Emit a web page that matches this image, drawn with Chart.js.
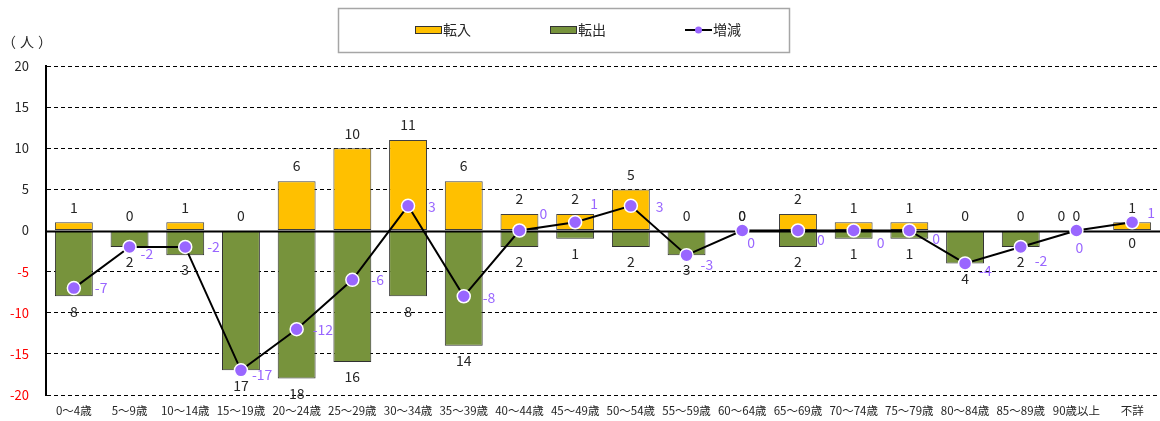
<!DOCTYPE html>
<html>
<head>
<meta charset="utf-8">
<script src="https://cdn.jsdelivr.net/npm/chart.js@4/dist/chart.umd.min.js"></script>
<style>
  html, body { margin: 0; padding: 0; background: #ffffff; }
  #wrap { width: 1160px; height: 421px; position: relative; }
</style>
</head>
<body>
<div id="wrap"><canvas id="c" width="1160" height="421"></canvas></div>
<script>
// 年齢階級別の転入・転出・増減（人）
const categories = ['0～4歳', '5～9歳', '10～14歳', '15～19歳', '20～24歳', '25～29歳', '30～34歳', '35～39歳',
  '40～44歳', '45～49歳', '50～54歳', '55～59歳', '60～64歳', '65～69歳', '70～74歳', '75～79歳',
  '80～84歳', '85～89歳', '90歳以上', '不詳'];
const inflow  = [1, 0, 1, 0, 6, 10, 11, 6, 2, 2, 5, 0, 0, 2, 1, 1, 0, 0, 0, 1];
const outflow = [8, 2, 3, 17, 18, 16, 8, 14, 2, 1, 2, 3, 0, 2, 1, 1, 4, 2, 0, 0];
const netChange = [-7, -2, -2, -17, -12, -6, 3, -8, 0, 1, 3, -3, 0, 0, 0, 0, -4, -2, 0, 1];
const yTicks = [-20, -15, -10, -5, 0, 5, 10, 15, 20];

const FONT = '"Noto Sans CJK JP", "Noto Sans", sans-serif';
const COL_IN = '#FFC000';
const COL_OUT = '#77933C';
const COL_NET = '#9966FF';
const TEXT = '#262626';

// 増減ラベルの位置（点の中心からのずれ）
const netLabelShift = [[21,0],[11,7],[22,0],[11,4],[16,0],[19,0],[20,1],[19,1],[20,-17],[15,-19],
  [25,1],[14,10],[5,12],[19,9],[23,12],[23,8],[14,7],[14,14],[-1,17],[15,-10]];

const decorations = {
  id: 'decorations',
  beforeDatasetDraw(chart, args) {
    // 0 の基準線は棒の上、折れ線の下
    if (args.index !== 2) return;
    const {ctx, chartArea} = chart;
    const y0 = Math.round(chart.scales.y.getPixelForValue(0)) + 0.5;
    ctx.save();
    ctx.strokeStyle = '#000';
    ctx.lineWidth = 2;
    ctx.beginPath();
    ctx.moveTo(chartArea.left, y0);
    ctx.lineTo(chartArea.right, y0);
    ctx.stroke();
    ctx.restore();
  },
  afterDatasetsDraw(chart) {
    const {ctx} = chart;
    const xs = chart.scales.x, ys = chart.scales.y;
    const y0 = ys.getPixelForValue(0);
    ctx.save();
    ctx.font = '14px ' + FONT;
    ctx.textBaseline = 'middle';
    ctx.textAlign = 'center';
    ctx.fillStyle = TEXT;
    categories.forEach((c, i) => {
      const x = xs.getPixelForValue(i);
      // 転入
      const inX = (c === '90歳以上') ? x - 15 : x;
      ctx.fillText(String(inflow[i]), inX, ys.getPixelForValue(inflow[i]) - 15);
      // 転出（絶対値で表示）
      if (outflow[i] > 0) {
        ctx.fillText(String(outflow[i]), x, ys.getPixelForValue(-outflow[i]) + 15);
      } else if (c === '不詳') {
        ctx.fillText('0', x, y0 + 12);
      } else {
        ctx.fillText('0', x, y0 - 15);
      }
    });
    // 増減
    ctx.fillStyle = COL_NET;
    ctx.textAlign = 'left';
    const meta = chart.getDatasetMeta(2);
    meta.data.forEach((pt, i) => {
      const s = netLabelShift[i];
      ctx.fillText(String(netChange[i]), pt.x + s[0], pt.y + s[1]);
    });
    ctx.restore();
  },
  afterDraw(chart) {
    const {ctx} = chart;
    ctx.save();
    // 単位
    ctx.font = '14px ' + FONT;
    ctx.fillStyle = TEXT;
    ctx.textBaseline = 'middle';
    ctx.textAlign = 'left';
    ctx.fillText('（', 2, 42);
    ctx.fillText('人', 20, 42);
    ctx.fillText('）', 38, 42);
    // 凡例
    ctx.strokeStyle = '#a6a6a6';
    ctx.lineWidth = 1.5;
    ctx.strokeRect(338.5, 8.5, 451, 44);
    const ly = 30;
    ctx.font = '14px ' + FONT;
    ctx.lineWidth = 1;
    ctx.strokeStyle = '#333';
    ctx.fillStyle = COL_IN;
    ctx.fillRect(415, 26, 27, 8);
    ctx.strokeRect(415.5, 26.5, 26, 7);
    ctx.fillStyle = COL_OUT;
    ctx.fillRect(550, 26, 27, 8);
    ctx.strokeRect(550.5, 26.5, 26, 7);
    ctx.strokeStyle = '#000';
    ctx.lineWidth = 2;
    ctx.beginPath();
    ctx.moveTo(685, ly); ctx.lineTo(712, ly);
    ctx.stroke();
    ctx.fillStyle = COL_NET;
    ctx.beginPath();
    ctx.arc(698.5, ly, 3.5, 0, Math.PI * 2);
    ctx.fill();
    ctx.fillStyle = TEXT;
    const ds = chart.data.datasets;
    ctx.fillText(ds[0].label, 443, ly);
    ctx.fillText(ds[1].label, 578, ly);
    ctx.fillText(ds[2].label, 713, ly);
    ctx.restore();
  }
};

new Chart(document.getElementById('c'), {
  type: 'bar',
  data: {
    labels: categories,
    datasets: [
      {
        label: '転入',
        data: inflow,
        backgroundColor: COL_IN,
        borderColor: '#404040',
        borderWidth: 1,
        borderSkipped: false,
        grouped: false,
        categoryPercentage: 1,
        barPercentage: 0.68,
        order: 2
      },
      {
        label: '転出',
        data: outflow.map(v => -v),
        backgroundColor: COL_OUT,
        borderColor: '#303030',
        borderWidth: 1,
        borderSkipped: false,
        grouped: false,
        categoryPercentage: 1,
        barPercentage: 0.68,
        order: 2
      },
      {
        type: 'line',
        label: '増減',
        data: netChange,
        borderColor: '#000',
        borderWidth: 2,
        pointRadius: 6.5,
        pointHoverRadius: 6.5,
        pointBackgroundColor: COL_NET,
        pointBorderColor: '#ffffff',
        pointBorderWidth: 1.5,
        tension: 0,
        fill: false,
        clip: false,
        order: 0
      }
    ]
  },
  options: {
    responsive: false,
    animation: false,
    devicePixelRatio: 1,
    layout: { autoPadding: false, padding: { top: 66, left: 0, right: 0, bottom: 0 } },
    plugins: {
      legend: { display: false },
      tooltip: { enabled: false },
      title: { display: false }
    },
    scales: {
      x: {
        grid: { display: false, drawTicks: false },
        border: { display: false },
        ticks: {
          autoSkip: false,
          maxRotation: 0,
          minRotation: 0,
          padding: 9,
          color: TEXT,
          font: { family: FONT, size: 11.5 }
        },
        afterFit(scale) {
          scale.height = 26;
          scale.paddingLeft = 0;
          scale.paddingRight = 0;
        }
      },
      y: {
        min: -20,
        max: 20,
        afterBuildTicks(scale) { scale.ticks = yTicks.map(v => ({ value: v })); },
        grid: {
          drawTicks: false,
          color: ctx => (ctx.tick && ctx.tick.value === 0) ? 'rgba(0,0,0,0)' : '#000000',
          lineWidth: 1
        },
        border: { display: true, color: '#000000', width: 2, dash: [4, 3] },
        ticks: {
          padding: 17,
          color: ctx => (ctx.tick && ctx.tick.value < 0) ? '#FF0000' : TEXT,
          font: { family: FONT, size: 13 },
          callback: v => String(v)
        },
        afterFit(scale) {
          scale.width = 46;
          scale.paddingTop = 0;
          scale.paddingBottom = 0;
        }
      }
    }
  },
  plugins: [decorations]
});
</script>
</body>
</html>
